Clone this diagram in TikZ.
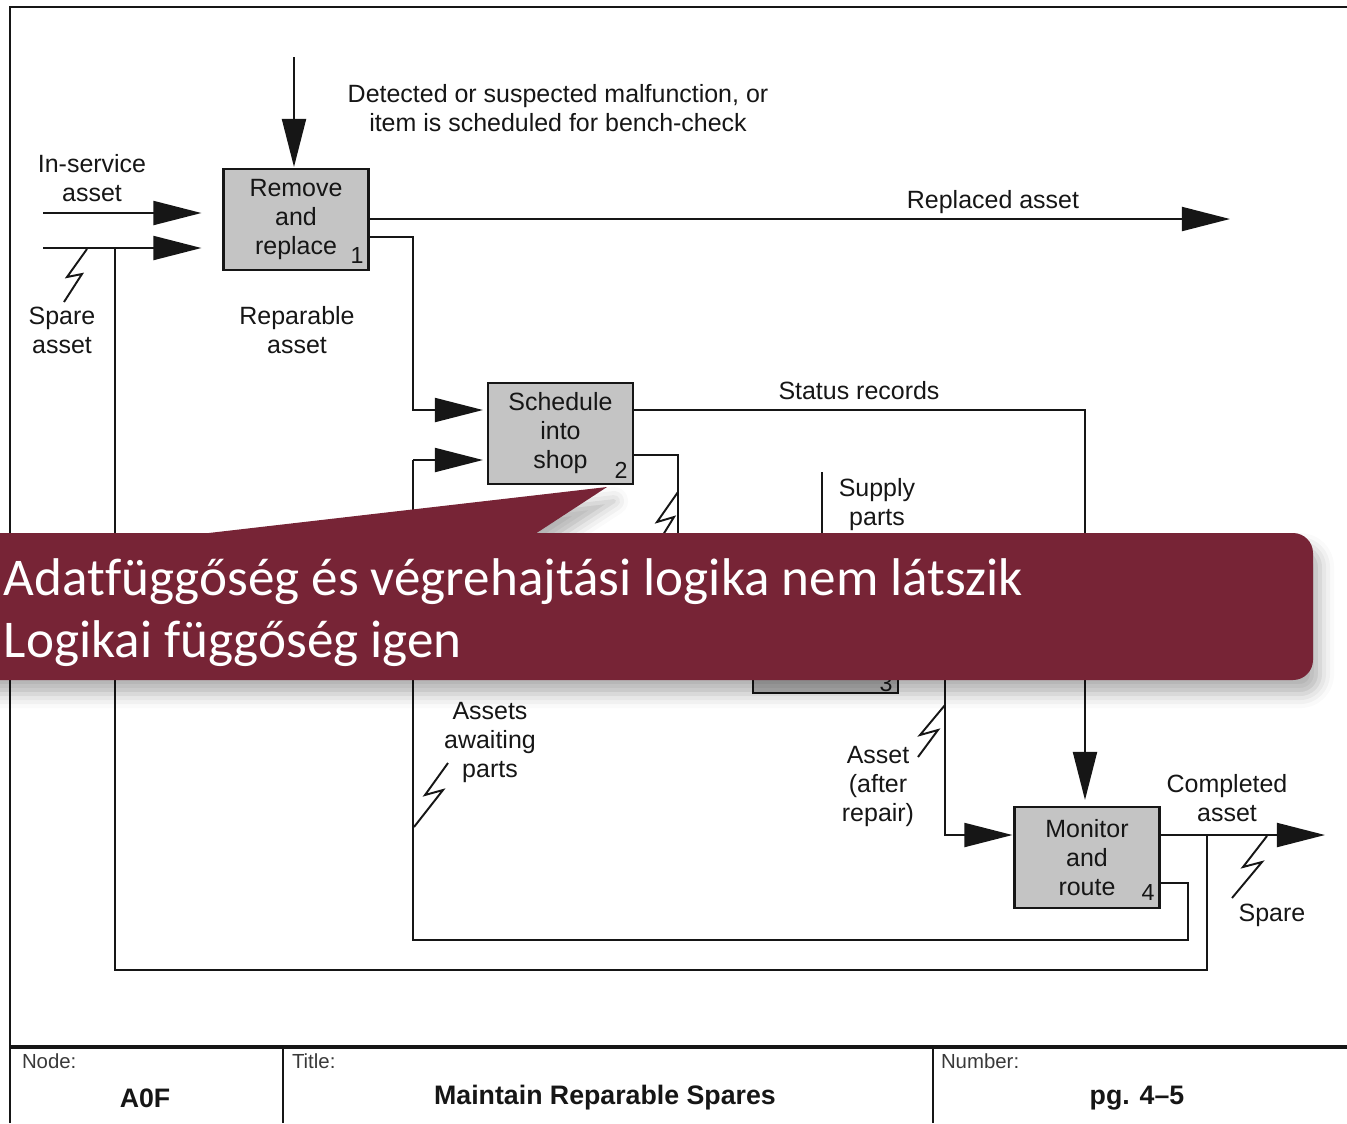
\documentclass[tikz,border=0pt]{standalone}
\usepackage{fontspec}
\setmainfont{Liberation Sans}
\newfontfamily\calloutfont[Ligatures=NoCommon]{Carlito}
\usetikzlibrary{arrows.meta,shadows.blur}
\definecolor{boxgray}{RGB}{196,196,196}
\definecolor{calloutred}{RGB}{119,36,54}
\definecolor{ink}{RGB}{22,22,22}

\begin{document}
\begin{tikzpicture}[x=0.01cm,y=-0.01cm,
  every node/.style={inner sep=0pt, outer sep=0pt},
  lbl/.style={font=\fontsize{7.1pt}{8.25pt}\selectfont, align=center, text=ink},
  act/.style={draw=ink, fill=boxgray, line width=0.6pt, minimum width=1.45cm,
    minimum height=1.01cm, font=\fontsize{7.1pt}{8.25pt}\selectfont, align=center, text=ink},
  num/.style={font=\fontsize{6.6pt}{7pt}\selectfont, text=ink},
  wire/.style={draw=ink, line width=0.55pt},
  flow/.style={wire, -{Triangle[length=0.48cm,width=0.24cm]}},
  bolt/.style={draw=ink, line width=0.55pt, line join=miter},
  frameline/.style={draw=ink, line width=0.75pt},
  tsmall/.style={font=\fontsize{5.8pt}{7pt}\selectfont, text=ink!85},
  tbig/.style={font=\bfseries\fontsize{7.6pt}{9pt}\selectfont, text=ink},
  bubble/.style={fill=calloutred, blur shadow={shadow xshift=2pt, shadow yshift=-4pt,
    shadow blur radius=4pt, shadow opacity=30}},
  bubbletext/.style={anchor=base west, text=white,
    font=\calloutfont\fontsize{15.1pt}{17.6pt}\selectfont}
]
\clip (0,0) rectangle (1347,1123);

% sheet frame and title block
\draw[frameline] (10,1123) -- (10,7) -- (1347,7);
\draw[frameline, line width=0.9pt] (10,1047) -- (1347,1047);
\draw[frameline] (283,1047) -- (283,1123);
\draw[frameline] (933,1047) -- (933,1123);
\node[tsmall, anchor=west] (tnode) at (22,1061) {Node:};
\node[tbig] (tnodev) at (145,1098) {A0F};
\node[tsmall, anchor=west] (ttitle) at (292,1061) {Title:};
\node[tbig] (ttitlev) at (605,1098) {Maintain Reparable Spares};
\node[tsmall, anchor=west] (tnum) at (941,1061) {Number:};
\node[tbig] (tnumv) at (1137,1098) {pg. 4–5};

% activity boxes
\node[act] (b1) at (296,219.5) {Remove\\and\\replace};
\node[act] (b2) at (560.5,433.5) {Schedule\\into\\shop};
\node[act] (b3) at (825.5,642.5) {};
\node[act] (b4) at (1087,857.5) {Monitor\\and\\route};
\node[num] (n1) at (357,256) {1};
\node[num] (n2) at (621,470) {2};
\node[num] (n3) at (886,683) {3};
\node[num] (n4) at (1148,893) {4};

% control into box 1
\coordinate (ctl) at (294,57);
\draw[flow, shorten >=0.02cm] (ctl) -- (ctl |- b1.north);

% inputs of box 1
\coordinate (inA) at (43,213);
\coordinate (inB) at (43,248);
\draw[flow, shorten >=0.22cm] (inA) -- (inA -| b1.west);
\draw[flow, shorten >=0.22cm] (inB) -- (inB -| b1.west);

% replaced asset leaves the sheet
\coordinate (repl) at (1230,219);
\draw[flow] (repl -| b1.east) -- (repl);

% reparable asset to box 2
\coordinate (r1) at (413,237);
\coordinate (r2) at (413,410);
\draw[flow, shorten >=0.05cm] (r1 -| b1.east) -- (r1) -- (r2) -- (r2 -| b2.west);

% status records to box 4
\coordinate (s1) at (1085,410);
\draw[flow, shorten >=0.07cm] (s1 -| b2.east) -- (s1) -- (s1 |- b4.north);

% scheduled asset to box 3
\coordinate (w1) at (678,455);
\coordinate (w2) at (678,642);
\draw[flow] (w1 -| b2.east) -- (w1) -- (w2) -- (w2 -| b3.west);

% supply parts into box 3
\coordinate (sup) at (822,472);
\draw[flow] (sup) -- (sup |- b3.north);

% repaired asset to box 4
\coordinate (a1) at (945,642);
\coordinate (a2) at (945,835);
\draw[flow, shorten >=0.02cm] (a1 -| b3.east) -- (a1) -- (a2) -- (a2 -| b4.west);

% completed asset leaves the sheet
\coordinate (done) at (1325,835);
\draw[flow] (done -| b4.east) -- (done);

% spare returns to the input of box 1
\coordinate (sp1) at (1207,835);
\coordinate (sp2) at (1207,970);
\coordinate (sp3) at (115,970);
\coordinate (sp4) at (115,248);
\draw[wire] (sp1) -- (sp2) -- (sp3) -- (sp4);

% assets awaiting parts return to box 2
\coordinate (wt1) at (1188,883);
\coordinate (wt2) at (1188,940);
\coordinate (wt3) at (413,940);
\coordinate (wt4) at (413,460);
\draw[wire] (wt1 -| b4.east) -- (wt1) -- (wt2) -- (wt3) -- (wt4);
\draw[flow, shorten >=0.05cm] (wt4) -- (wt4 -| b2.west);

% squiggles tying labels to arrows
\draw[bolt] (87,249) -- (67,277) -- (82,274) -- (64,302);
\draw[bolt] (448,763) -- (425,795) -- (443,790) -- (414,827);
\draw[bolt] (945,705) -- (920,735) -- (938,730) -- (918,757);
\draw[bolt] (1267,836) -- (1243,867) -- (1262,862) -- (1232,898);
\draw[bolt] (678,492) -- (657,522) -- (674,517) -- (655,548);

% arrow labels
\node[lbl] (lctl) at (558,108) {Detected or suspected malfunction, or\\item is scheduled for bench-check};
\node[lbl] (lins) at (92,178) {In-service\\asset};
\node[lbl] (lspa) at (62,330) {Spare\\asset};
\node[lbl] (lrep) at (297,330) {Reparable\\asset};
\node[lbl] (lrpl) at (993,202) {Replaced asset};
\node[lbl] (lsta) at (859,391) {Status records};
\node[lbl] (lsup) at (877,505) {Supply\\parts};
\node[lbl] (lawa) at (490,742) {Assets\\awaiting\\parts};
\node[lbl] (laft) at (878,786) {Asset\\(after\\repair)};
\node[lbl] (lcom) at (1227,798) {Completed\\asset};
\node[lbl] (lspr) at (1272,915) {Spare};

% callout
\fill[bubble] (200,534) -- (607,487) -- (535,534) -- cycle;
\fill[bubble, rounded corners=0.2cm] (-40,533) rectangle (1313,680);
\node[bubbletext] (c1) at (4,595) {Adatfüggőség és végrehajtási logika nem látszik};
\node[bubbletext] (c2) at (4,657) {Logikai függőség igen};
\end{tikzpicture}
\end{document}
